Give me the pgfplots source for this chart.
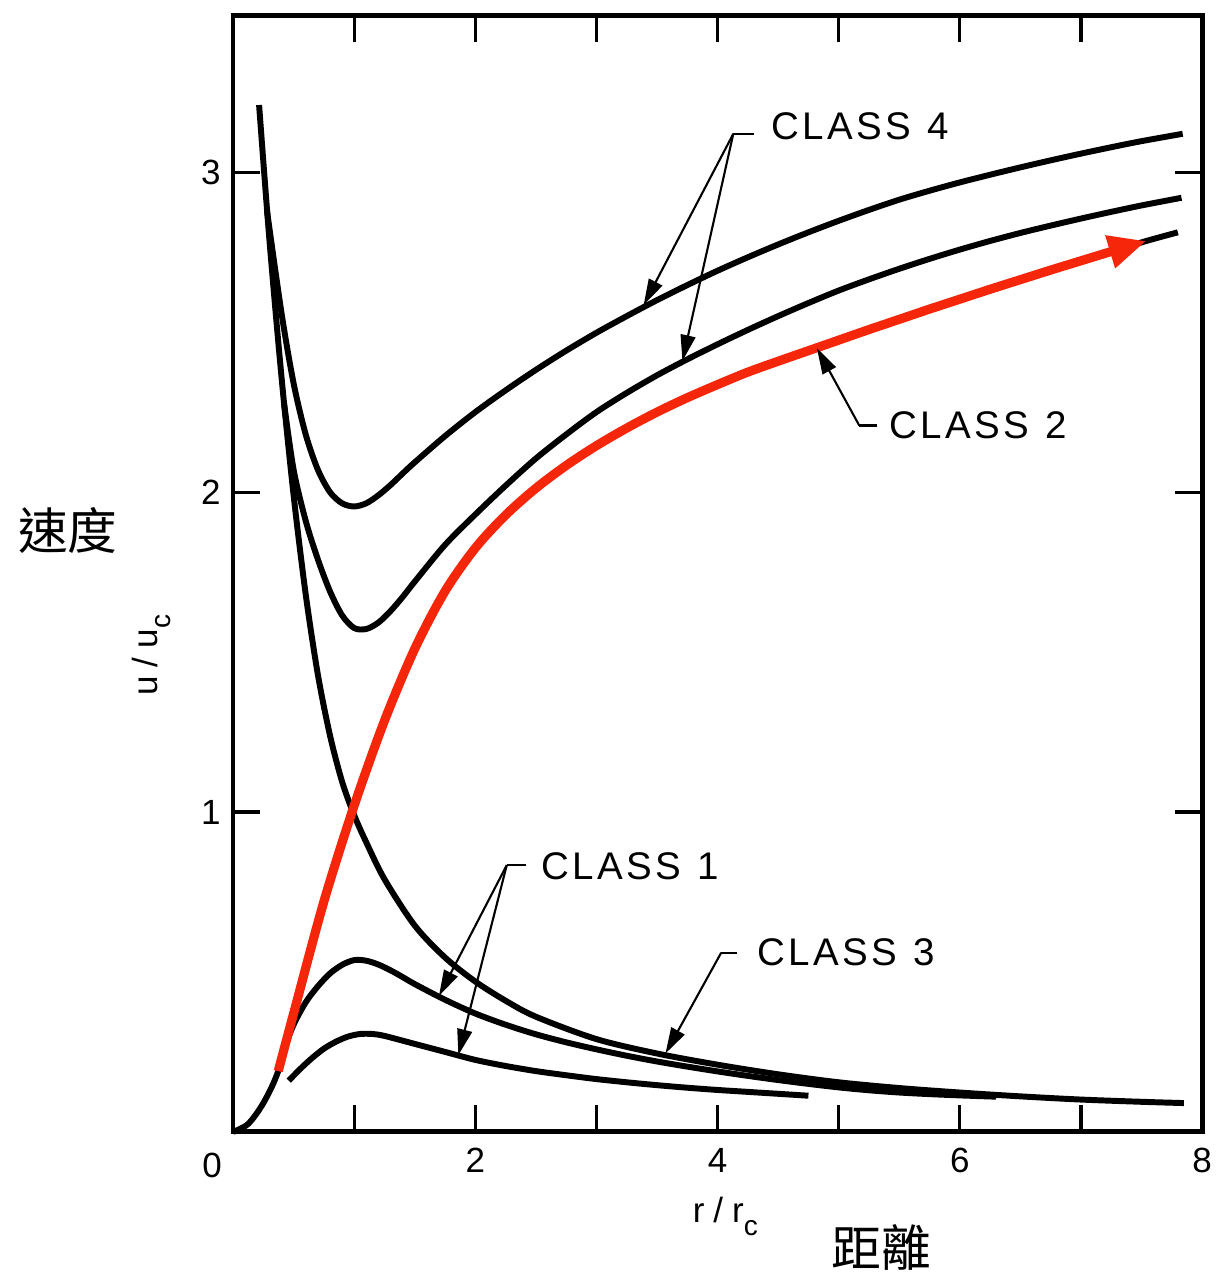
\documentclass[border=0pt]{standalone}
\usepackage{fontspec}
\setmainfont{Liberation Sans}
\newfontfamily\cjk{Noto Sans CJK TC}
\usepackage{pgfplots}
\pgfplotsset{compat=1.18}
\usetikzlibrary{arrows.meta}
\definecolor{redarrow}{RGB}{245,38,10}
\tikzset{arr/.style={line width=0.6pt, -{Triangle[length=2.6mm,width=1.5mm]}},
  lbl/.style={line width=0.6pt}}
\pgfplotsset{curve/.style={black, line width=1.7pt, smooth, tension=0.5, no markers}}
\newcommand{\cls}[1]{{\fontsize{11}{13}\selectfont\addfontfeature{LetterSpace=9}CLASS\hspace{1.6mm}#1}}
\begin{document}
\begin{tikzpicture}
\begin{axis}[
  width=97.3mm, height=112.1mm, scale only axis,
  xmin=0, xmax=8, ymin=0, ymax=3.49,
  clip=false,
  axis line style={line width=1.4pt},
  every tick/.style={black, line width=0.9pt},
  major tick length=2.7mm,
  tick align=inside,
  xtick={1,...,8}, xticklabels={,2,,4,,6,,8},
  ytick={1,2,3}, yticklabels={1,2,3},
  extra x ticks={0}, extra x tick labels={0},
  extra x tick style={major tick length=0pt, xticklabel style={xshift=-2.1mm, yshift=-0.5mm}},
  tick label style={font=\fontsize{10}{12}\selectfont},
  xticklabel style={yshift=-0.4mm},
]
% class 3
\addplot[curve] coordinates {(0.215,3.21)(0.3,2.79)(0.4,2.36)(0.5,1.99)(0.6,1.68)(0.7,1.43)(0.8,1.24)(0.9,1.095)(1.0,0.99)(1.1,0.905)(1.25,0.79)(1.5,0.645)(1.75,0.545)(2.0,0.47)(2.25,0.41)(2.5,0.36)(3.0,0.29)(3.5,0.245)(4.0,0.21)(4.5,0.18)(5.0,0.155)(5.5,0.137)(6.0,0.123)(6.5,0.111)(7.0,0.101)(7.5,0.094)(7.85,0.09)};
% class 4 upper
\addplot[curve] coordinates {(0.28,2.88)(0.4,2.56)(0.5,2.34)(0.6,2.18)(0.7,2.07)(0.8,2.0)(0.9,1.965)(1.0,1.955)(1.1,1.965)(1.2,1.99)(1.3,2.022)(1.4,2.058)(1.5,2.093)(1.75,2.175)(2.0,2.25)(2.25,2.318)(2.5,2.382)(2.75,2.442)(3.0,2.498)(3.25,2.55)(3.5,2.6)(3.75,2.647)(4.0,2.692)(4.25,2.734)(4.5,2.774)(4.75,2.812)(5.0,2.848)(5.25,2.882)(5.5,2.914)(5.75,2.942)(6.0,2.968)(6.25,2.992)(6.5,3.015)(6.75,3.037)(7.0,3.058)(7.25,3.078)(7.5,3.097)(7.84,3.12)};
% class 4 lower
\addplot[curve] coordinates {(0.42,2.28)(0.5,2.07)(0.6,1.91)(0.7,1.79)(0.8,1.69)(0.9,1.615)(1.0,1.575)(1.1,1.572)(1.2,1.592)(1.3,1.628)(1.4,1.672)(1.5,1.72)(1.75,1.835)(2.0,1.93)(2.25,2.02)(2.5,2.105)(2.75,2.18)(3.0,2.25)(3.25,2.31)(3.5,2.365)(3.75,2.415)(4.0,2.462)(4.25,2.507)(4.5,2.55)(4.75,2.591)(5.0,2.63)(5.25,2.665)(5.5,2.698)(5.75,2.729)(6.0,2.758)(6.25,2.785)(6.5,2.81)(6.75,2.833)(7.0,2.855)(7.25,2.876)(7.5,2.896)(7.83,2.92)};
% class 2
\addplot[curve] coordinates {(0,0)(0.125,0.025)(0.25,0.09)(0.373,0.19)(0.5,0.37)(0.75,0.72)(1.0,1.02)(1.25,1.285)(1.5,1.51)(1.75,1.69)(2.0,1.825)(2.25,1.928)(2.5,2.012)(2.75,2.083)(3.0,2.145)(3.25,2.2)(3.5,2.25)(3.75,2.295)(4.0,2.336)(4.25,2.375)(4.5,2.409)(4.75,2.442)(5.0,2.475)(5.25,2.508)(5.5,2.54)(5.75,2.572)(6.0,2.603)(6.25,2.634)(6.5,2.664)(6.75,2.694)(7.0,2.723)(7.25,2.752)(7.54,2.785)(7.8,2.812)};
% class 1 upper
\addplot[curve] coordinates {(0.4,0.24)(0.5,0.335)(0.6,0.405)(0.7,0.455)(0.8,0.495)(0.9,0.522)(1.0,0.537)(1.1,0.535)(1.2,0.523)(1.3,0.505)(1.4,0.484)(1.5,0.462)(1.75,0.413)(2.0,0.37)(2.25,0.335)(2.5,0.305)(2.75,0.28)(3.0,0.258)(3.25,0.238)(3.5,0.22)(3.75,0.204)(4.0,0.189)(4.25,0.175)(4.5,0.162)(4.75,0.15)(5.0,0.139)(5.25,0.13)(5.5,0.123)(5.75,0.118)(6.0,0.114)(6.3,0.11)};
% class 1 lower
\addplot[curve] coordinates {(0.46,0.16)(0.55,0.195)(0.65,0.23)(0.75,0.26)(0.85,0.282)(0.95,0.298)(1.05,0.306)(1.15,0.306)(1.25,0.30)(1.5,0.275)(1.75,0.25)(2.0,0.225)(2.25,0.206)(2.5,0.19)(2.75,0.177)(3.0,0.165)(3.25,0.155)(3.5,0.146)(3.75,0.138)(4.0,0.131)(4.25,0.125)(4.5,0.119)(4.75,0.113)};
% red arrow
\addplot[redarrow, line width=2.6pt, smooth, tension=0.5, no markers, -{Triangle[length=3.8mm,width=3.2mm]}] coordinates {(0.373,0.19)(0.5,0.37)(0.75,0.72)(1.0,1.02)(1.25,1.285)(1.5,1.51)(1.75,1.69)(2.0,1.825)(2.25,1.928)(2.5,2.012)(2.75,2.083)(3.0,2.145)(3.25,2.2)(3.5,2.25)(3.75,2.295)(4.0,2.336)(4.25,2.375)(4.5,2.409)(4.75,2.442)(5.0,2.475)(5.25,2.508)(5.5,2.54)(5.75,2.572)(6.0,2.603)(6.25,2.634)(6.5,2.664)(6.75,2.694)(7.0,2.723)(7.25,2.752)(7.54,2.785)};
% annotations
\draw[lbl] (axis cs:4.30,3.12) -- (axis cs:4.13,3.12);
\draw[arr] (axis cs:4.13,3.12) -- (axis cs:3.39,2.585);
\draw[arr] (axis cs:4.13,3.12) -- (axis cs:3.71,2.41);
\node at (axis cs:5.175,3.145) {\cls{4}};
\draw[lbl] (axis cs:5.32,2.208) -- (axis cs:5.17,2.208);
\draw[arr] (axis cs:5.17,2.208) -- (axis cs:4.82,2.45);
\node at (axis cs:6.15,2.208) {\cls{2}};
\draw[lbl] (axis cs:2.42,0.834) -- (axis cs:2.26,0.834);
\draw[arr] (axis cs:2.26,0.834) -- (axis cs:1.70,0.425);
\draw[arr] (axis cs:2.26,0.834) -- (axis cs:1.86,0.24);
\node at (axis cs:3.275,0.83) {\cls{1}};
\draw[lbl] (axis cs:4.16,0.56) -- (axis cs:4.03,0.56);
\draw[arr] (axis cs:4.03,0.56) -- (axis cs:3.57,0.245);
\node at (axis cs:5.06,0.56) {\cls{3}};
% axis labels
\node[rotate=90, font=\fontsize{10}{12}\selectfont] at (rel axis cs:-0.084,0.427) {u\hspace{0.9mm}/\hspace{0.9mm}u\raisebox{-0.7ex}{\footnotesize c}};
\node[font=\fontsize{10}{12}\selectfont] at (rel axis cs:0.508,-0.076) {r\hspace{0.9mm}/\hspace{0.9mm}r\raisebox{-0.7ex}{\footnotesize c}};
\node[font=\cjk\fontsize{14.2}{16}\selectfont] at (rel axis cs:-0.1706,0.539) {速度};
\node[font=\cjk\fontsize{14.2}{16}\selectfont] at (rel axis cs:0.669,-0.1035) {距離};
\end{axis}
\path ([shift={(-23.4mm,-14.5mm)}]current axis.south west) rectangle ([shift={(2.0mm,1.55mm)}]current axis.north east);
\end{tikzpicture}
\end{document}
